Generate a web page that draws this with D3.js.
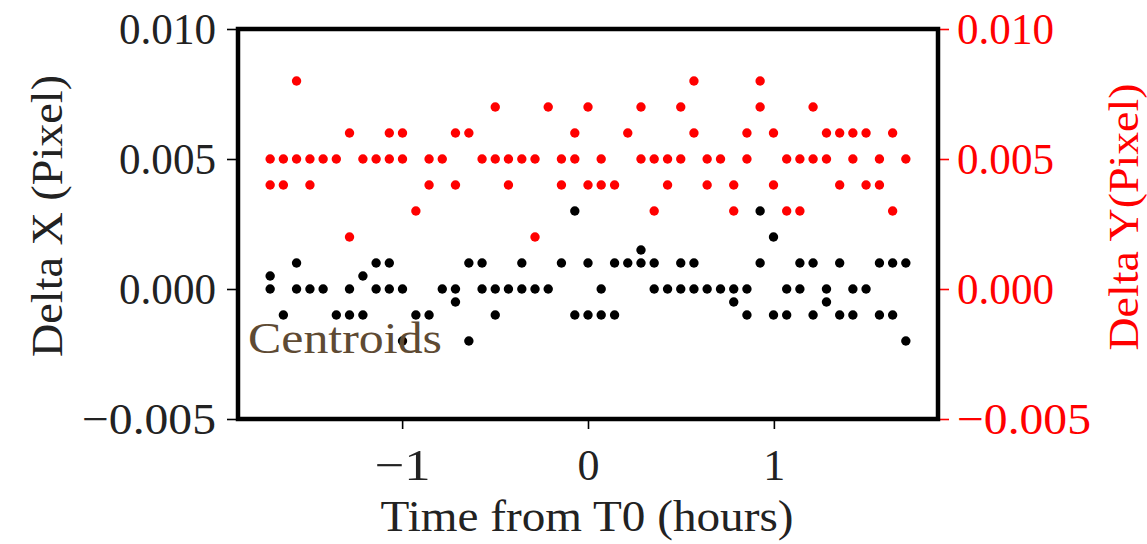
<!DOCTYPE html>
<html>
<head>
<meta charset="utf-8">
<script src="https://cdn.jsdelivr.net/npm/d3@7"></script>
<style>
  html, body { margin: 0; padding: 0; background: #fff; }
  svg { display: block; }
  text { font-family: "Liberation Serif", "DejaVu Serif", serif; }
</style>
</head>
<body>
<svg id="chart" width="1147" height="544"></svg>
<script>
// ---- data ----
// observation times (hours from T0), one per column
const times = [-1.710, -1.639, -1.568, -1.496, -1.425, -1.354, -1.283, -1.211, -1.140, -1.069,
  -0.998, -0.926, -0.855, -0.784, -0.713, -0.641, -0.570, -0.499, -0.428, -0.356,
  -0.285, -0.214, -0.143, -0.071, 0.000, 0.071, 0.143, 0.214, 0.285, 0.356,
  0.428, 0.499, 0.570, 0.641, 0.713, 0.784, 0.855, 0.926, 0.998, 1.069,
  1.140, 1.211, 1.283, 1.354, 1.425, 1.496, 1.568, 1.639, 1.710];
// Delta X values per column (black, left axis)
const deltaX = [[0.0005, 0], [-0.001], [0.001, 0], [0], [0], [-0.001], [0, -0.001], [0.0005, -0.001], [0.001, 0], [0.001, 0],
  [0, -0.002], [-0.001], [-0.001], [0], [0, -0.0005], [0.001, -0.002], [0.001, 0], [0, -0.001], [0], [0.001, 0],
  [0], [0], [0.001], [0.003, -0.001], [0.001, -0.001], [0, -0.001], [0.001, -0.001], [0.001], [0.0015, 0.001], [0.001, 0],
  [0], [0.001, 0], [0.001, 0], [0], [0], [0, -0.0005], [0, -0.001], [0.003, 0.001], [0.002, -0.001], [0, -0.001],
  [0.001, 0], [0.001, -0.001], [0, -0.0005], [0.001, -0.001], [0, -0.001], [0], [0.001, -0.001], [0.001, -0.001], [0.001, -0.002]];
// Delta Y values per column (red, right axis)
const deltaY = [[0.005, 0.004], [0.005, 0.004], [0.008, 0.005], [0.005, 0.004], [0.005], [0.005], [0.006, 0.002], [0.005], [0.005], [0.006, 0.005],
  [0.006, 0.005], [0.003], [0.005, 0.004], [0.005], [0.006, 0.004], [0.006], [0.005], [0.007, 0.005], [0.005, 0.004], [0.005],
  [0.005, 0.002], [0.007], [0.005, 0.004], [0.006, 0.005], [0.007, 0.004], [0.005, 0.004], [0.004], [0.006], [0.007, 0.005], [0.005, 0.003],
  [0.005, 0.004], [0.007, 0.005], [0.008, 0.006], [0.005, 0.004], [0.005], [0.004, 0.003], [0.006, 0.005], [0.008, 0.007], [0.006, 0.004], [0.005, 0.003],
  [0.005, 0.003], [0.007, 0.005], [0.006, 0.005], [0.006, 0.004], [0.006, 0.005], [0.006, 0.004], [0.005, 0.004], [0.006, 0.003], [0.005]];
const xTicks = [-1, 0, 1];
const yTicks = [-0.005, 0.000, 0.005, 0.010];
const xDomain = [-1.883, 1.883];
const yDomain = [-0.005, 0.010];

// ---- layout ----
const svg = d3.select("#chart");
const L = 238, R = 938, T = 29, B = 419;
const FS = 44;

const x = d3.scaleLinear().domain(xDomain).range([L, R]);
const yL = d3.scaleLinear().domain(yDomain).range([B, T]);
const yR = d3.scaleLinear().domain(yDomain).range([B, T]);

const fmt = d3.format(".3f");

// points
const blackPts = [];
times.forEach((t, i) => deltaX[i].forEach(v => blackPts.push([t, v])));
const redPts = [];
times.forEach((t, i) => deltaY[i].forEach(v => redPts.push([t, v])));

svg.append("g").selectAll("circle").data(blackPts).join("circle")
  .attr("cx", d => x(d[0])).attr("cy", d => yL(d[1])).attr("r", 4.7).attr("fill", "#000");
svg.append("g").selectAll("circle").data(redPts).join("circle")
  .attr("cx", d => x(d[0])).attr("cy", d => yR(d[1])).attr("r", 4.7).attr("fill", "#ff0000");

// axes
const axL = svg.append("g").attr("transform", `translate(${L - 2},0)`)
  .call(d3.axisLeft(yL).tickValues(yTicks).tickFormat(fmt).tickSize(9).tickPadding(11));
const axR = svg.append("g").attr("transform", `translate(${R + 2},0)`)
  .call(d3.axisRight(yR).tickValues(yTicks).tickFormat(fmt).tickSize(9).tickPadding(8));
const axB = svg.append("g").attr("transform", `translate(0,${B + 2})`)
  .call(d3.axisBottom(x).tickValues(xTicks).tickFormat(d3.format("d")).tickSize(8).tickPadding(20));

[axL, axR, axB].forEach(g => {
  g.select(".domain").remove();
  g.selectAll("text").attr("font-size", FS).attr("font-family", "Liberation Serif");
  g.selectAll("line").attr("stroke-width", 1.6);
});
[axL, axR].forEach(g => g.selectAll("text")
  .attr("textLength", d => d < 0 ? 134 : 97).attr("lengthAdjust", "spacingAndGlyphs"));
axB.selectAll("text").filter(d => d < 0)
  .attr("textLength", 56).attr("lengthAdjust", "spacingAndGlyphs");
axL.selectAll("text").attr("fill", "#222");
axB.selectAll("text").attr("fill", "#222");
axR.selectAll("text").attr("fill", "#ff0000");
axR.selectAll("line").attr("stroke", "#ff0000");

// frame
svg.append("rect").attr("x", L).attr("y", T).attr("width", R - L).attr("height", B - T)
  .attr("fill", "none").attr("stroke", "#000").attr("stroke-width", 4.5);

// labels
svg.append("text").attr("transform", `translate(47,216) rotate(-90)`)
  .attr("text-anchor", "middle").attr("dominant-baseline", "central")
  .attr("font-size", FS).attr("fill", "#222")
  .attr("textLength", 282).attr("lengthAdjust", "spacingAndGlyphs").text("Delta X (Pixel)");
svg.append("text").attr("transform", `translate(1124,217) rotate(-90)`)
  .attr("text-anchor", "middle").attr("dominant-baseline", "central")
  .attr("font-size", 42).attr("fill", "#ff0000")
  .attr("textLength", 267).attr("lengthAdjust", "spacingAndGlyphs").text("Delta Y(Pixel)");
svg.append("text").attr("x", 587).attr("y", 531).attr("text-anchor", "middle")
  .attr("font-size", FS).attr("fill", "#222")
  .attr("textLength", 413).attr("lengthAdjust", "spacingAndGlyphs").text("Time from T0 (hours)");
svg.append("text").attr("x", 248).attr("y", 353)
  .attr("font-size", FS).attr("fill", "#5e4a33")
  .attr("textLength", 194).attr("lengthAdjust", "spacingAndGlyphs").text("Centroids");
</script>
</body>
</html>
